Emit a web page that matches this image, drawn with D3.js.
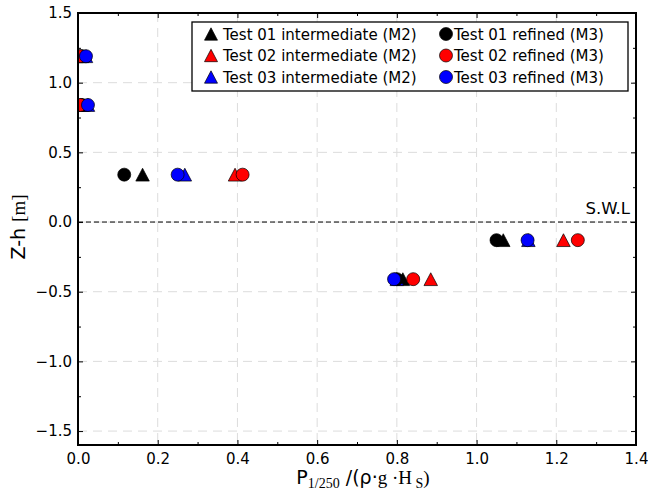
<!DOCTYPE html>
<html><head><meta charset="utf-8">
<script src="https://cdn.jsdelivr.net/npm/d3@7"></script>
<style>
body{margin:0;background:#fff;}
text{font-family:"DejaVu Sans",Verdana,sans-serif;}
</style></head>
<body><svg id="c" width="648" height="492"></svg>
<script>
// ---- data ----
const levels = [1.19, 0.84, 0.34, -0.13, -0.41];
const test01_M2 = [0.010, 0.010, 0.162, 1.067, 0.815];
const test02_M2 = [0.005, 0.006, 0.394, 1.218, 0.885];
const test03_M2 = [0.020, 0.025, 0.268, 1.130, 0.800];
const test01_M3 = [0.010, 0.010, 0.116, 1.050, 0.800];
const test02_M3 = [0.005, 0.006, 0.413, 1.254, 0.841];
const test03_M3 = [0.020, 0.025, 0.250, 1.128, 0.793];
const seriesNames = ["Test 01 intermediate (M2)","Test 02 intermediate (M2)","Test 03 intermediate (M2)",
                     "Test 01 refined (M3)","Test 02 refined (M3)","Test 03 refined (M3)"];
const xTicks = [0.0,0.2,0.4,0.6,0.8,1.0,1.2,1.4];
const yTicks = [1.5,1.0,0.5,0.0,-0.5,-1.0,-1.5];
const swlLabel = "S.W.L";

const series = [
  {name:seriesNames[0], vals:test01_M2, color:"#000", shape:"tri"},
  {name:seriesNames[1], vals:test02_M2, color:"#ff0000", shape:"tri"},
  {name:seriesNames[2], vals:test03_M2, color:"#0000ff", shape:"tri"},
  {name:seriesNames[3], vals:test01_M3, color:"#000", shape:"circ"},
  {name:seriesNames[4], vals:test02_M3, color:"#ff0000", shape:"circ"},
  {name:seriesNames[5], vals:test03_M3, color:"#0000ff", shape:"circ"}
];

const L=78, R=636, T=13, B=445;
const x = d3.scaleLinear().domain([0,1.4]).range([L,R]);
const y = d3.scaleLinear().domain([-1.6,1.5]).range([B,T]);
const svg = d3.select("#c");

svg.append("defs").append("clipPath").attr("id","clip")
  .append("rect").attr("x",L).attr("y",T).attr("width",R-L).attr("height",B-T);

// grid
const grid = svg.append("g");
grid.selectAll(".gx").data(xTicks.slice(1,-1)).enter().append("line")
  .attr("x1",d=>x(d)).attr("x2",d=>x(d)).attr("y1",T).attr("y2",B)
  .attr("stroke","#dcdcdc").attr("stroke-dasharray","9,6");
grid.selectAll(".gy").data(yTicks.slice(1)).enter().append("line")
  .attr("y1",d=>y(d)).attr("y2",d=>y(d)).attr("x1",L).attr("x2",R)
  .attr("stroke","#dcdcdc").attr("stroke-dasharray","9,6");

// SWL line
svg.append("line").attr("x1",L).attr("x2",R).attr("y1",y(0)).attr("y2",y(0))
  .attr("stroke","#000").attr("stroke-width",1).attr("stroke-dasharray","5,3");
svg.append("text").attr("x",630).attr("y",y(0)-8).attr("text-anchor","end")
  .attr("font-size",16.5).text(swlLabel);

// axes
const xMinor = d3.range(0.1,1.4,0.2);
const yMinor = [1.25,0.75,0.25,-0.25,-0.75,-1.25];
function styleAxis(g){ g.select(".domain").remove(); g.selectAll("text").attr("font-size",15).attr("fill","#000")
  .style("font-family","'DejaVu Sans',Verdana,sans-serif"); g.selectAll("line").attr("stroke","#000"); }
svg.append("g").attr("transform",`translate(0,${B})`)
  .call(d3.axisBottom(x).tickValues(xTicks).tickFormat(d3.format(".1f")).tickSize(-5).tickPadding(8)).call(styleAxis);
svg.append("g").attr("transform",`translate(${L},0)`)
  .call(d3.axisLeft(y).tickValues(yTicks).tickFormat(d=>d3.format(".1f")(d).replace("-","\u2212")).tickSize(-5).tickPadding(6)).call(styleAxis);
svg.append("g").attr("transform",`translate(0,${T})`)
  .call(d3.axisTop(x).tickValues(xTicks).tickFormat("").tickSize(-5)).call(styleAxis);
svg.append("g").attr("transform",`translate(${R},0)`)
  .call(d3.axisRight(y).tickValues(yTicks).tickFormat("").tickSize(-5)).call(styleAxis);
svg.append("g").attr("transform",`translate(0,${B})`)
  .call(d3.axisBottom(x).tickValues(xMinor).tickFormat("").tickSize(-3)).call(styleAxis);
svg.append("g").attr("transform",`translate(0,${T})`)
  .call(d3.axisTop(x).tickValues(xMinor).tickFormat("").tickSize(-3)).call(styleAxis);
svg.append("g").attr("transform",`translate(${L},0)`)
  .call(d3.axisLeft(y).tickValues(yMinor).tickFormat("").tickSize(-3)).call(styleAxis);
svg.append("g").attr("transform",`translate(${R},0)`)
  .call(d3.axisRight(y).tickValues(yMinor).tickFormat("").tickSize(-3)).call(styleAxis);

// markers
function triPath(cx,cy,s){ const h=s*0.95; return `M${cx-s/2},${cy+h/2}L${cx+s/2},${cy+h/2}L${cx},${cy-h/2}Z`; }
const plot = svg.append("g").attr("clip-path","url(#clip)");
series.forEach(s=>{
  s.vals.forEach((v,i)=>{
    if(s.shape==="tri"){
      plot.append("path").attr("d",triPath(x(v),y(levels[i]),13.5))
        .attr("fill",s.color).attr("stroke","#000").attr("stroke-width",0.7);
    } else {
      plot.append("circle").attr("cx",x(v)).attr("cy",y(levels[i])).attr("r",6.5)
        .attr("fill",s.color).attr("stroke","#000").attr("stroke-width",0.7);
    }
  });
});

// frame
svg.append("rect").attr("x",L).attr("y",T).attr("width",R-L).attr("height",B-T)
  .attr("fill","none").attr("stroke","#000").attr("stroke-width",2);

// legend
const lg = svg.append("g");
lg.append("rect").attr("x",192).attr("y",22).attr("width",436).attr("height",69)
  .attr("fill","#fff").attr("stroke","#000").attr("stroke-width",1.3);
series.forEach((s,i)=>{
  const col = Math.floor(i/3), row = i%3;
  const mx = col===0?211:446, my = 34+row*21.5;
  if(s.shape==="tri") lg.append("path").attr("d",triPath(mx,my,13)).attr("fill",s.color).attr("stroke","#000").attr("stroke-width",0.7);
  else lg.append("circle").attr("cx",mx).attr("cy",my).attr("r",6.5).attr("fill",s.color).attr("stroke","#000").attr("stroke-width",0.7);
  lg.append("text").attr("x",col===0?223:454).attr("y",my+5.5).attr("font-size",15).text(s.name);
});

// axis labels
const xl = svg.append("text").attr("x",363).attr("y",484).attr("text-anchor","middle").attr("font-size",19);
xl.append("tspan").text("P");
xl.append("tspan").attr("font-family","'Liberation Serif',serif").attr("font-size",14).attr("dy",4).text("1/250");
xl.append("tspan").attr("dy",-4).text(" /(\u03C1\u00B7");
xl.append("tspan").attr("font-family","'Liberation Serif',serif").text("g \u00B7H");
xl.append("tspan").attr("font-family","'Liberation Serif',serif").attr("font-size",14).attr("dy",4).text(" S");
xl.append("tspan").attr("font-family","'Liberation Serif',serif").attr("dy",-4).text(")");

const yl = svg.append("text").attr("transform","translate(25,227) rotate(-90)").attr("text-anchor","middle").attr("font-size",19);
yl.append("tspan").text("Z-h ");
yl.append("tspan").attr("font-family","'Liberation Serif',serif").text("[m]");
</script></body></html>
